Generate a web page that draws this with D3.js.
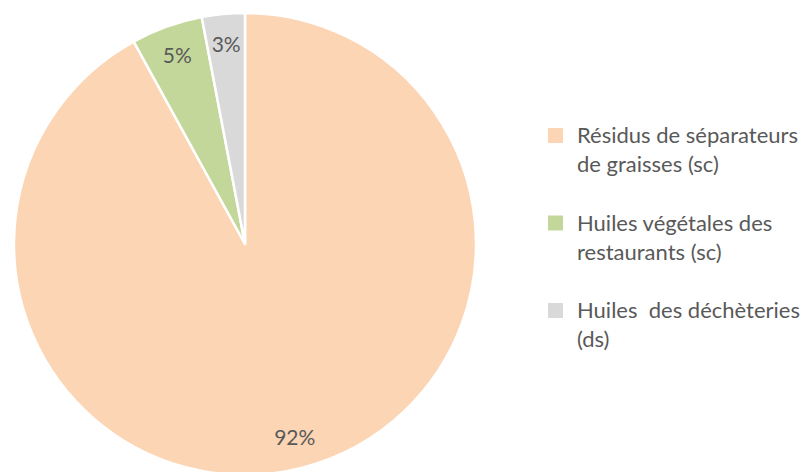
<!DOCTYPE html>
<html>
<head>
<meta charset="utf-8">
<script src="https://cdn.jsdelivr.net/npm/d3@7"></script>
<style>
  html, body { margin: 0; padding: 0; background: #fff; }
  svg { display: block; }
  text { font-family: Lato, "Open Sans", sans-serif; fill: #595959; }
</style>
</head>
<body>
<svg id="chart" width="803" height="472"></svg>
<script>
// Sources of collected fats and oils (share of total)
const categories = [
  ["Résidus de séparateurs", "de graisses (sc)"],
  ["Huiles végétales des", "restaurants (sc)"],
  ["Huiles\u00a0 des déchèteries", "(ds)"]
];
const shares = [92, 5, 3];
const percentLabels = ["92%", "5%", "3%"];
const colors = ["#FCD5B5", "#C4D79B", "#D9D9D9"];

const svg = d3.select("#chart");
const cx = 245, cy = 244, radius = 231;

const pie = d3.pie().sort(null).value(d => d)(shares);
const arc = d3.arc().innerRadius(0).outerRadius(radius);
const labelArc = d3.arc().innerRadius(200).outerRadius(200);

const g = svg.append("g").attr("transform", `translate(${cx},${cy})`);

g.selectAll("path.slice")
  .data(pie)
  .join("path")
  .attr("class", "slice")
  .attr("d", arc)
  .attr("fill", (d, i) => colors[i])
  .attr("stroke", "#fff")
  .attr("stroke-width", 2.5)
  .attr("stroke-linejoin", "round");

g.selectAll("text.pct")
  .data(pie)
  .join("text")
  .attr("class", "pct")
  .attr("transform", d => `translate(${labelArc.centroid(d)})`)
  .attr("text-anchor", "middle")
  .attr("dy", "0.35em")
  .attr("font-size", 21)
  .text((d, i) => percentLabels[i]);

// Legend
const legend = svg.append("g").attr("transform", "translate(548,143)");
const item = legend.selectAll("g.item")
  .data(categories)
  .join("g")
  .attr("class", "item")
  .attr("transform", (d, i) => `translate(0,${i * 87.5})`);

item.append("rect")
  .attr("x", 0).attr("y", -15)
  .attr("width", 15).attr("height", 15)
  .attr("fill", (d, i) => colors[i]);

item.append("text")
  .attr("x", 29)
  .attr("font-size", 22)
  .selectAll("tspan")
  .data(d => d)
  .join("tspan")
  .attr("x", 29)
  .attr("y", (d, j) => j * 29)
  .text(d => d);
</script>
</body>
</html>
